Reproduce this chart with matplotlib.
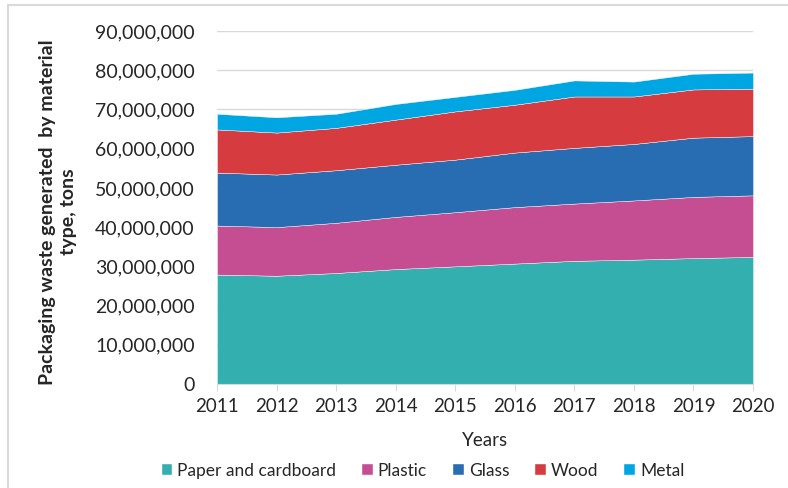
import numpy as np
import matplotlib.pyplot as plt
from matplotlib.ticker import FuncFormatter
from matplotlib.patches import Rectangle

plt.rcParams['font.family'] = ['Lato', 'DejaVu Sans']

years = [2011, 2012, 2013, 2014, 2015, 2016, 2017, 2018, 2019, 2020]
paper = [27.9, 27.6, 28.3, 29.3, 30.0, 30.7, 31.4, 31.7, 32.1, 32.4]
plastic = [12.5, 12.4, 12.8, 13.3, 13.8, 14.4, 14.6, 15.1, 15.6, 15.7]
glass = [13.5, 13.4, 13.4, 13.3, 13.4, 13.9, 14.2, 14.4, 15.1, 15.1]
wood = [11.0, 10.7, 10.8, 11.5, 12.3, 12.2, 13.1, 12.1, 12.3, 12.1]
metal = [4.0, 3.9, 3.6, 4.0, 3.7, 3.8, 4.1, 3.8, 4.0, 4.1]
labels = ['Paper and cardboard', 'Plastic', 'Glass', 'Wood', 'Metal']
colors = ['#32AFAE', '#C54D92', '#286CB2', '#D63B40', '#00A6E2']

data = np.array([paper, plastic, glass, wood, metal]) * 1e6

fig = plt.figure(figsize=(7.88, 4.88), dpi=100)
ax = fig.add_axes([217/788, 1-384/488, (753-217)/788, (384-31)/488])

ax.stackplot(years, data, colors=colors, labels=labels, linewidth=0.3,
             edgecolor='white', zorder=2)

ax.set_xlim(2011, 2020)
ax.set_ylim(0, 90e6)
ax.set_yticks(np.arange(0, 90e6 + 1, 10e6))
ax.yaxis.set_major_formatter(FuncFormatter(lambda v, p: f'{int(v):,}'))
ax.set_xticks(years)
ax.grid(axis='y', color='#D9D9D9', linewidth=1, zorder=0)
for s in ['top', 'right', 'left']:
    ax.spines[s].set_visible(False)
ax.spines['bottom'].set_color('#D9D9D9')
ax.tick_params(axis='y', length=0, labelsize=14, colors='#262626', pad=16)
ax.tick_params(axis='x', length=5, color='#D9D9D9', labelsize=13.5,
               colors='#262626', pad=5)

ax.set_xlabel('Years', fontsize=13.5, color='#262626', labelpad=12)
fig.text(58/788, 1-212/488, 'Packaging waste generated  by material\ntype, tons',
         rotation=90, ha='center', va='center', fontsize=14,
         fontweight='bold', color='#262626', linespacing=1.35)

h, l = ax.get_legend_handles_labels()
fig.legend(h, l, loc='center', bbox_to_anchor=(423/788, 1-471/488), ncol=5,
           frameon=False, fontsize=12.5, handlelength=0.6, handleheight=0.6,
           handletextpad=0.3, columnspacing=1.5, labelcolor='#262626')

fig.patches.append(Rectangle((8/788, -0.1), 1.2, 1 - 5/488 + 0.1,
                             transform=fig.transFigure, fill=False,
                             edgecolor='#D9D9D9', linewidth=1.5))

fig.savefig('out.png', dpi=100)
